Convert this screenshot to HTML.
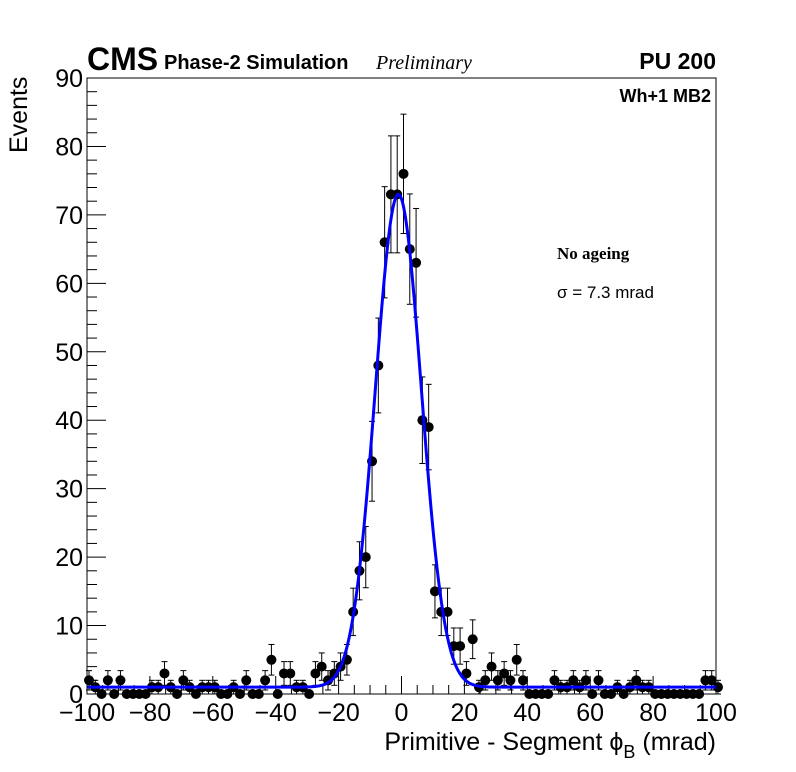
<!DOCTYPE html>
<html><head><meta charset="utf-8"><style>
html,body{margin:0;padding:0;background:#fff;}
svg{display:block;font-family:"Liberation Sans",sans-serif;}
</style></head><body>
<svg id="chart" width="796" height="772" viewBox="0 0 796 772" xmlns="http://www.w3.org/2000/svg">
<rect x="0" y="0" width="796" height="772" fill="#fff"/>
<g id="ticks"></g>
<g id="marks"></g>
<path id="fit" fill="none" stroke="#0000ff" stroke-width="3"/>
<rect x="87" y="78" width="629" height="616" fill="none" stroke="#000" stroke-width="1"/>
<text x="87" y="70" font-size="32" font-weight="bold">CMS</text>
<text x="164" y="69" font-size="20" font-weight="bold">Phase-2 Simulation</text>
<text x="376" y="69" font-size="20" font-style="italic" font-family="Liberation Serif, serif">Preliminary</text>
<text x="716" y="69" font-size="23" font-weight="bold" text-anchor="end">PU 200</text>
<text x="711" y="102" font-size="18" font-weight="bold" text-anchor="end">Wh+1 MB2</text>
<text x="557" y="259" font-size="17" font-weight="bold" font-family="Liberation Serif, serif">No ageing</text>
<text x="557" y="298" font-size="17">σ = 7.3 mrad</text>
<text transform="translate(27,153) rotate(-90)" font-size="25">Events</text>
<text x="716" y="750" font-size="25" text-anchor="end">Primitive - Segment ϕ<tspan font-size="18" dy="8">B</tspan><tspan dy="-8"> (mrad)</tspan></text>
</svg>
<script>
const binCenters = [-100,-98,-96,-94,-92,-90,-88,-86,-84,-82,-80,-78,-76,-74,-72,-70,-68,-66,-64,-62,-60,-58,-56,-54,-52,-50,-48,-46,-44,-42,-40,-38,-36,-34,-32,-30,-28,-26,-24,-22,-20,-18,-16,-14,-12,-10,-8,-6,-4,-2,0,2,4,6,8,10,12,14,16,18,20,22,24,26,28,30,32,34,36,38,40,42,44,46,48,50,52,54,56,58,60,62,64,66,68,70,72,74,76,78,80,82,84,86,88,90,92,94,96,98,100];
const counts = [2,1,0,2,0,2,0,0,0,0,1,1,3,1,0,2,1,0,1,1,1,0,0,1,0,2,0,0,2,5,0,3,3,1,1,0,3,4,2,3,4,5,12,18,20,34,48,66,73,73,76,65,63,40,39,15,12,12,7,7,3,8,1,2,4,2,3,2,5,2,0,0,0,0,2,1,1,2,1,2,0,2,0,0,1,0,1,2,1,1,0,0,0,0,0,0,0,0,2,2,1];
const fitParams = [72, -1, 7.3, 1]; // amplitude, mean, sigma, constant
const xTickLabels = ["−100","−80","−60","−40","−20","0","20","40","60","80","100"];
const xTickValues = [-100,-80,-60,-40,-20,0,20,40,60,80,100];
const yTickValues = [0,10,20,30,40,50,60,70,80,90];

const X0=87,X1=716,Y0=694,Y1=78;
const xs = v => X0 + (v+100)/200*(X1-X0);
const ys = v => Y0 - v/90*(Y0-Y1);
const NS="http://www.w3.org/2000/svg";
const svg=document.getElementById('chart');
const tg=document.getElementById('ticks');
const mg=document.getElementById('marks');
function mk(tag,attrs,parent){const e=document.createElementNS(NS,tag);for(const k in attrs)e.setAttribute(k,attrs[k]);parent.appendChild(e);return e;}

for(let v=-100;v<=100;v+=5){
  const major = v%20===0;
  const t=mk('line',{x1:xs(v),x2:xs(v),y1:Y0,y2:Y0-(major?18:9),stroke:'#000','stroke-width':1},tg);
  
  
}
xTickValues.forEach((v,i)=>{
  const t=mk('text',{x:xs(v),y:721,'font-size':25,'text-anchor':'middle'},svg);
  t.textContent=xTickLabels[i];
  
  
});
for(let v=0;v<=90;v+=2){
  const major = v%10===0;
  const t=mk('line',{x1:X0,x2:X0+(major?19:10),y1:ys(v),y2:ys(v),stroke:'#000','stroke-width':1},tg);
  
  
}
yTickValues.forEach(v=>{
  const t=mk('text',{x:83,y:ys(v)+9,'font-size':25,'text-anchor':'end'},svg);
  t.textContent=String(v);
  
  
});
binCenters.forEach((c,i)=>{
  const n=counts[i], cx=xs(c)+2, cy=ys(n);
  if(n>0){
    const e=Math.sqrt(n);
    const top=Math.max(ys(n+e),Y1), bot=Math.min(ys(n-e),Y0);
    const g=mk('g',{stroke:'#000','stroke-width':1},mg);
    
    
    mk('line',{x1:cx,x2:cx,y1:top,y2:bot},g);
    mk('line',{x1:cx-3,x2:cx+3,y1:top,y2:top},g);
    mk('line',{x1:cx-3,x2:cx+3,y1:bot,y2:bot},g);
  }
  const p=mk('circle',{cx:cx,cy:cy,r:5,fill:'#000'},mg);
  
  
});
let d='';
for(let x=-100;x<=100;x+=0.25){
  const [A,m,s,c]=fitParams;
  const y=c+A*Math.exp(-0.5*((x-m)/s)**2);
  d+=(d?'L':'M')+xs(x).toFixed(2)+','+ys(y).toFixed(2);
}
document.getElementById('fit').setAttribute('d',d);
</script>
</body></html>
